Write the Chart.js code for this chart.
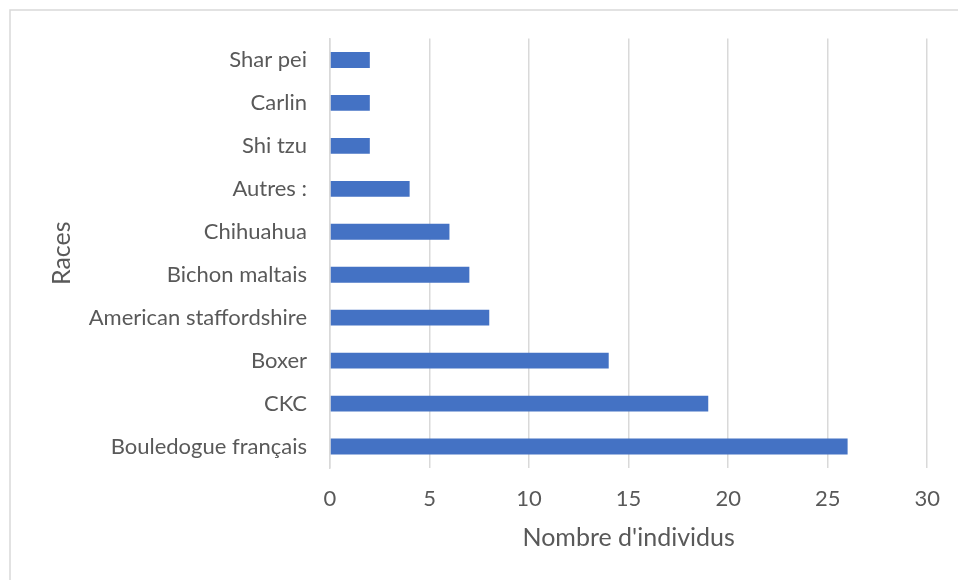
<!DOCTYPE html>
<html>
<head>
<meta charset="utf-8">
<script src="https://cdn.jsdelivr.net/npm/chart.js@4/dist/chart.umd.min.js"></script>
<style>
  html, body { margin: 0; padding: 0; background: #ffffff; }
  #wrap { position: relative; width: 958px; height: 580px; }
</style>
</head>
<body>
<div id="wrap"><canvas id="c" width="958" height="580"></canvas></div>
<script>
const categories = ["Shar pei", "Carlin", "Shi tzu", "Autres :", "Chihuahua", "Bichon maltais", "American staffordshire", "Boxer", "CKC", "Bouledogue français"];
const values = [2, 2, 2, 4, 6, 7, 8, 14, 19, 26];
const xTicks = [0, 5, 10, 15, 20, 25, 30];
const xTitle = "Nombre d'individus";
const yTitle = "Races";

const FONT = "Lato, 'Open Sans', sans-serif";
const TEXT = "#595959";
const GRID = "#D9D9D9";

const frame = {
  id: 'frame',
  beforeDraw(chart) {
    const ctx = chart.ctx;
    ctx.save();
    ctx.strokeStyle = GRID;
    ctx.lineWidth = 1.5;
    ctx.beginPath();
    ctx.moveTo(10, 600);
    ctx.lineTo(10, 10);
    ctx.lineTo(1000, 10);
    ctx.stroke();
    ctx.restore();
  }
};

new Chart(document.getElementById('c'), {
  type: 'bar',
  data: {
    labels: categories,
    datasets: [{
      data: values,
      backgroundColor: '#4472C4',
      borderWidth: 0,
      categoryPercentage: 1,
      barPercentage: 0.37
    }]
  },
  options: {
    indexAxis: 'y',
    responsive: false,
    animation: false,
    events: [],
    layout: { padding: { left: 47, top: 38.5, right: 28.5, bottom: 27 } },
    plugins: { legend: { display: false }, tooltip: { enabled: false } },
    scales: {
      x: {
        min: 0, max: 30,
        afterBuildTicks(scale) { scale.ticks = xTicks.map(v => ({ value: v })); },
        afterFit(scale) { scale.height = 85; },
        grid: { color: GRID, lineWidth: 1.5, drawTicks: false },
        border: { display: false },
        ticks: { color: TEXT, font: { family: FONT, size: 22 }, padding: 18, maxRotation: 0 },
        title: { display: true, text: xTitle, color: TEXT, font: { family: FONT, size: 25 }, padding: 0 }
      },
      y: {
        afterFit(scale) { scale.width = 283; },
        grid: { display: false, drawTicks: false },
        border: { display: true, color: GRID, width: 1.5 },
        ticks: { color: TEXT, font: { family: FONT, size: 22 }, padding: 23 },
        title: { display: true, text: yTitle, color: TEXT, font: { family: FONT, size: 25 }, padding: 0 }
      }
    }
  },
  plugins: [frame]
});
</script>
</body>
</html>
